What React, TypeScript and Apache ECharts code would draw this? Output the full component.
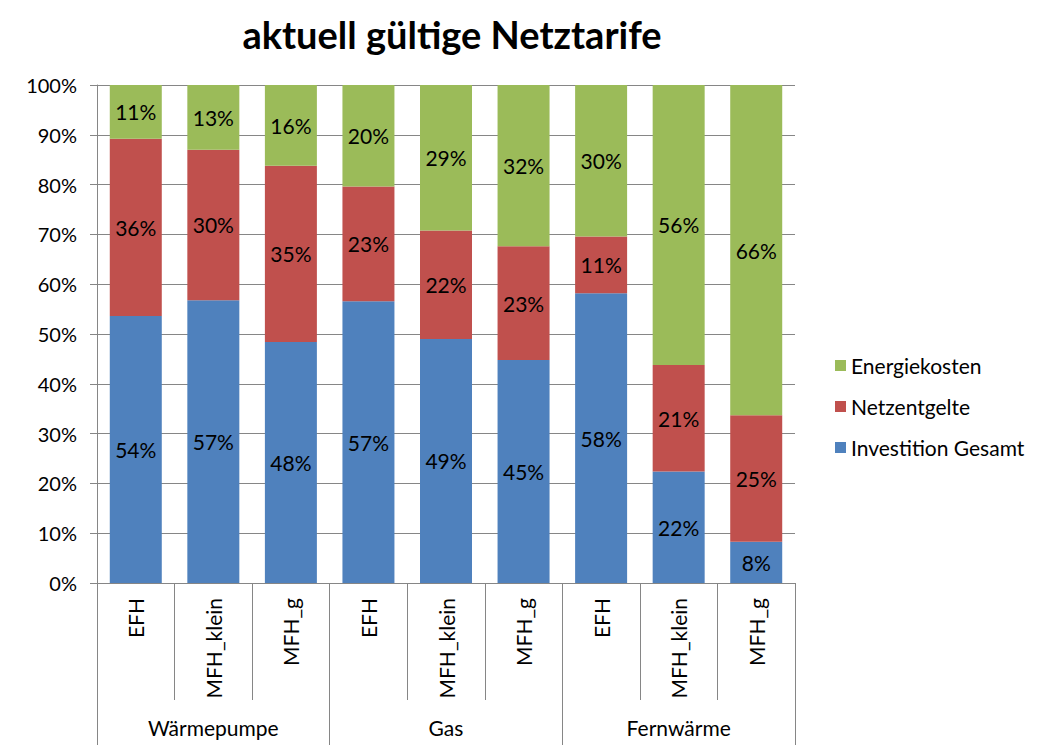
import React, { useEffect, useRef } from "react";
import * as echarts from "echarts";

const categories = ["EFH", "MFH_klein", "MFH_g", "EFH", "MFH_klein", "MFH_g", "EFH", "MFH_klein", "MFH_g"];
const groups = ["Wärmepumpe", "Gas", "Fernwärme"];
const investition = [53.6, 56.8, 48.4, 56.6, 49.0, 44.8, 58.2, 22.4, 8.3];
const netzentgelte = [35.6, 30.2, 35.4, 23.0, 21.8, 22.8, 11.4, 21.4, 25.4];
const energiekosten = [10.8, 13.0, 16.2, 20.4, 29.2, 32.4, 30.4, 56.2, 66.3];
const yTicks = [0, 10, 20, 30, 40, 50, 60, 70, 80, 90, 100];

const FONT = "Lato, 'Open Sans', sans-serif";
const GRAY = "#868686";

export default function App() {
  const ref = useRef<HTMLDivElement>(null);
  useEffect(() => {
    document.body.style.margin = "0";
    const chart = echarts.init(ref.current!, null, { renderer: "svg" });
    const label = {
      show: true,
      position: "inside",
      color: "#000",
      fontFamily: FONT,
      fontSize: 21,
      formatter: (p: any) => Math.round(p.value) + "%",
    };
    const mk = (name: string, data: number[], color: string) => ({
      name,
      type: "bar",
      stack: "total",
      data,
      barWidth: 52,
      itemStyle: { color },
      label,
      xAxisIndex: 0,
      yAxisIndex: 0,
    });
    chart.setOption({
      animation: false,
      title: {
        text: "aktuell gültige Netztarife",
        left: 447,
        textAlign: "center",
        top: 10,
        textStyle: { fontFamily: FONT, fontSize: 38, fontWeight: "bold", color: "#000" },
      },
      legend: {
        orient: "vertical",
        left: 830,
        top: 350,
        icon: "rect",
        itemWidth: 11,
        itemHeight: 11,
        itemGap: 20,
        data: ["Energiekosten", "Netzentgelte", "Investition Gesamt"],
        textStyle: { fontFamily: FONT, fontSize: 21, color: "#000", lineHeight: 21 },
      },
      grid: { left: 97, right: 247, top: 85, bottom: 162, containLabel: false },
      xAxis: [
        {
          type: "category",
          data: categories,
          position: "bottom",
          axisLine: { show: true, lineStyle: { color: GRAY } },
          axisTick: { show: true, interval: 0, length: 117, lineStyle: { color: GRAY } },
          axisLabel: {
            interval: 0,
            rotate: 90,
            margin: 15,
            fontFamily: FONT,
            fontSize: 21,
            color: "#000",
          },
        },
        {
          type: "category",
          data: groups,
          position: "bottom",
          offset: 117,
          axisLine: { show: false },
          axisTick: { show: true, interval: 0, length: 45, lineStyle: { color: GRAY } },
          axisLabel: { interval: 0, margin: 17, fontFamily: FONT, fontSize: 21, color: "#000" },
        },
      ],
      yAxis: {
        type: "value",
        min: 0,
        max: 100,
        interval: 10,
        axisLine: { show: true, lineStyle: { color: GRAY } },
        axisTick: { show: true, length: 7, lineStyle: { color: GRAY } },
        splitLine: { show: true, lineStyle: { color: GRAY } },
        axisLabel: {
          fontFamily: FONT,
          fontSize: 20,
          color: "#000",
          margin: 20,
          formatter: (v: number) => (yTicks.includes(v) ? v + "%" : ""),
        },
      },
      series: [
        mk("Investition Gesamt", investition, "#4F81BD"),
        mk("Netzentgelte", netzentgelte, "#C0504D"),
        mk("Energiekosten", energiekosten, "#9BBB59"),
      ],
    });
    return () => chart.dispose();
  }, []);
  return <div ref={ref} style={{ width: 1042, height: 745 }} />;
}
